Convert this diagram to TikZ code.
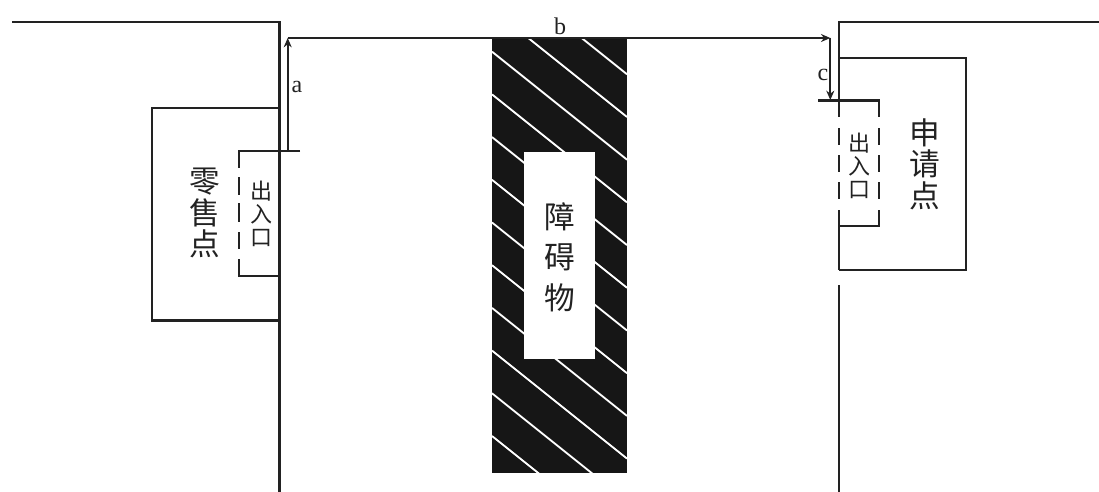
\documentclass[tikz,border=0pt]{standalone}
\usepackage{fontspec}
\newfontfamily\cjk{Noto Sans CJK SC}
\setmainfont{Liberation Serif}
\usetikzlibrary{arrows.meta}
\definecolor{ink}{HTML}{222222}
\definecolor{fillblk}{HTML}{161616}
\tikzset{
  x=0.75pt,y=-0.75pt,
  wallline/.style={draw=ink,line width=1.8pt},
  thin line/.style={draw=ink,line width=1.7pt},
  flow/.style={draw=ink,line width=1.4pt,-{Stealth[length=7pt,width=6pt]}},
  hatchline/.style={draw=white,line width=1.4pt},
  bigtext/.style={inner sep=0pt,align=center,text=ink,font={\cjk\fontsize{23}{23.6}\selectfont}},
  obstext/.style={inner sep=0pt,align=center,text=ink,font={\cjk\fontsize{23}{30.4}\selectfont}},
  smalltext/.style={inner sep=0pt,align=center,text=ink,font={\cjk\fontsize{16.5}{17.3}\selectfont}},
  lettertext/.style={inner sep=0pt,text=ink,font={\fontsize{18}{20}\selectfont}},
}
\begin{document}
\begin{tikzpicture}
\useasboundingbox (0,0) rectangle (1099,492);
\fill[white] (0,0) rectangle (1099,492);
% obstacle
\fill[fillblk] (492,38) rectangle (627,473);
\begin{scope}
  \clip (492,38) rectangle (627,473);
  \foreach \k in {-3,...,9} {
    \draw[hatchline] (492,{51.7+42.7*\k}) -- (627,{51.7+42.7*\k+108});
  }
\end{scope}
\fill[white] (524,152) rectangle (595,359);
% left wall and shop
\draw[wallline,line join=miter] (12,22) -- (279.5,22) -- (279.5,492);
\draw[thin line] (279.5,108) -- (152,108) -- (152,320.5) -- (279.5,320.5);
% left door
\draw[thin line] (300,151) -- (239,151) -- (239,167.7);
\draw[thin line] (239,177) -- (239,195);
\draw[thin line] (239,203) -- (239,222);
\draw[thin line] (239,232) -- (239,249);
\draw[thin line] (239,259) -- (239,275.7) -- (279.5,275.7);
% right wall and shop
\draw[wallline] (1099,22) -- (839,22) -- (839,117);
\draw[wallline] (839,128) -- (839,145);
\draw[wallline] (839,155) -- (839,172);
\draw[wallline] (839,182) -- (839,199);
\draw[wallline] (839,210) -- (839,270);
\draw[wallline] (839,285) -- (839,492);
\draw[thin line] (839,57.7) -- (966,57.7) -- (966,270) -- (839,270);
% right door
\draw[thin line] (818,100.5) -- (879,100.5) -- (879,117);
\draw[thin line] (879,128) -- (879,145);
\draw[thin line] (879,155) -- (879,172);
\draw[thin line] (879,182) -- (879,199);
\draw[thin line] (879,210) -- (879,225.7) -- (839,225.7);
% route
\coordinate (start) at (287.7,151);
\coordinate (corner1) at (287.7,38);
\coordinate (corner2) at (830.3,38);
\coordinate (finish) at (830.3,100);
\draw[flow] (start) -- (corner1);
\draw[flow] (corner1) -- (corner2);
\draw[flow] (corner2) -- (finish);
% labels
\node[lettertext] (la) at (297,87) {a};
\node[lettertext] (lb) at (560,26) {b};
\node[lettertext] (lc) at (823,75) {c};
\node[bigtext] (shop) at (205,213) {零\\售\\点};
\node[smalltext] (doorl) at (261,214) {出\\入\\口};
\node[smalltext] (doorr) at (859,166) {出\\入\\口};
\node[bigtext] (apply) at (925,164) {申\\请\\点};
\node[obstext] (obst) at (560,257) {障\\碍\\物};
\end{tikzpicture}
\end{document}
